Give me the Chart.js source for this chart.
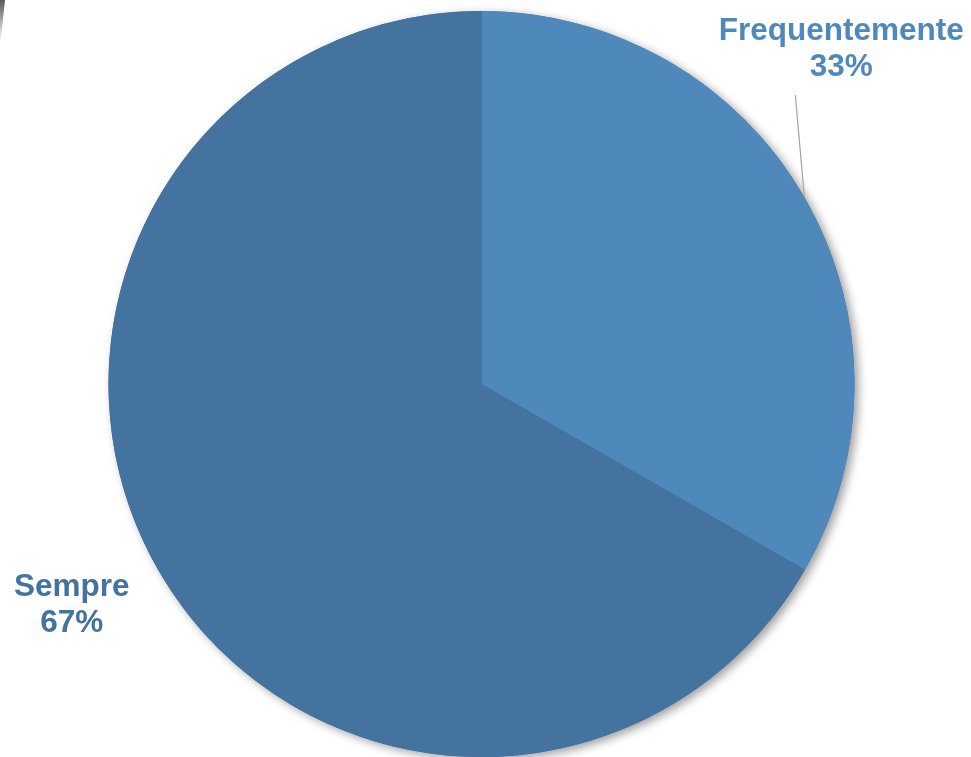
<!DOCTYPE html>
<html>
<head>
<meta charset="utf-8">
<script src="https://cdn.jsdelivr.net/npm/chart.js@4/dist/chart.umd.min.js"></script>
<style>
    html, body { margin: 0; padding: 0; background: #ffffff; }
    #wrap { position: relative; width: 971px; height: 757px; overflow: hidden; }
    #edge {
        position: absolute; left: 0; top: 0; width: 5px; height: 42px;
        background: linear-gradient(to bottom, rgba(60,60,60,0.85), rgba(120,120,120,0));
        transform: skewX(-6deg); transform-origin: top left;
    }
</style>
</head>
<body>
<div id="wrap">
    <canvas id="pie-chart" width="971" height="757"></canvas>
    <div id="edge"></div>
</div>
<script>
// pie data
const categories = ['Frequentemente', 'Sempre'];
const values = [33.3, 66.7];
const percentLabels = ['33%', '67%'];
const sliceColors = ['#4f89bc', '#44739f'];

// label placement relative to the slice's outer edge (mid angle)
const labelOffsets = [{ dx: 37, dy: -166, leader: true }, { dx: -87, dy: 16, leader: false }];

const shadowPlugin = {
    id: 'pieShadow',
    beforeDatasetsDraw(chart) {
        const arc = chart.getDatasetMeta(0).data[0];
        if (!arc) return;
        const { x, y, outerRadius } = arc.getProps(['x', 'y', 'outerRadius'], true);
        const ctx = chart.ctx;
        ctx.save();
        ctx.shadowColor = 'rgba(0, 0, 0, 0.38)';
        ctx.shadowBlur = 10;
        ctx.shadowOffsetX = 4;
        ctx.shadowOffsetY = 3;
        ctx.fillStyle = sliceColors[1];
        ctx.beginPath();
        ctx.arc(x, y, outerRadius, 0, Math.PI * 2);
        ctx.fill();
        ctx.restore();
    }
};

const labelPlugin = {
    id: 'pieLabels',
    afterDatasetsDraw(chart) {
        const ctx = chart.ctx;
        chart.getDatasetMeta(0).data.forEach((arc, i) => {
            const p = arc.getProps(['x', 'y', 'startAngle', 'endAngle', 'outerRadius'], true);
            const mid = (p.startAngle + p.endAngle) / 2;
            const ex = p.x + Math.cos(mid) * p.outerRadius;
            const ey = p.y + Math.sin(mid) * p.outerRadius;
            const off = labelOffsets[i];
            const lx = ex + off.dx;
            const ly = ey + off.dy;

            ctx.save();
            if (off.leader) {
                ctx.strokeStyle = '#a6a6a6';
                ctx.lineWidth = 1.2;
                ctx.beginPath();
                ctx.moveTo(ex, ey);
                ctx.lineTo(ex - 9, ly + 64);
                ctx.stroke();
            }
            ctx.fillStyle = sliceColors[i];
            ctx.font = 'bold 31.5px "Liberation Sans", Arial, sans-serif';
            ctx.textAlign = 'center';
            ctx.textBaseline = 'middle';
            ctx.fillText(categories[i], lx, ly);
            ctx.fillText(percentLabels[i], lx, ly + 36);
            ctx.restore();
        });
    }
};

new Chart(document.getElementById('pie-chart'), {
    type: 'pie',
    data: {
        labels: categories,
        datasets: [{
            data: values,
            backgroundColor: sliceColors,
            borderWidth: 0,
            hoverOffset: 0
        }]
    },
    options: {
        responsive: false,
        animation: false,
        layout: { padding: { left: 108, right: 116, top: 11, bottom: 0 } },
        plugins: {
            legend: { display: false },
            tooltip: { enabled: false }
        }
    },
    plugins: [shadowPlugin, labelPlugin]
});
</script>
</body>
</html>
